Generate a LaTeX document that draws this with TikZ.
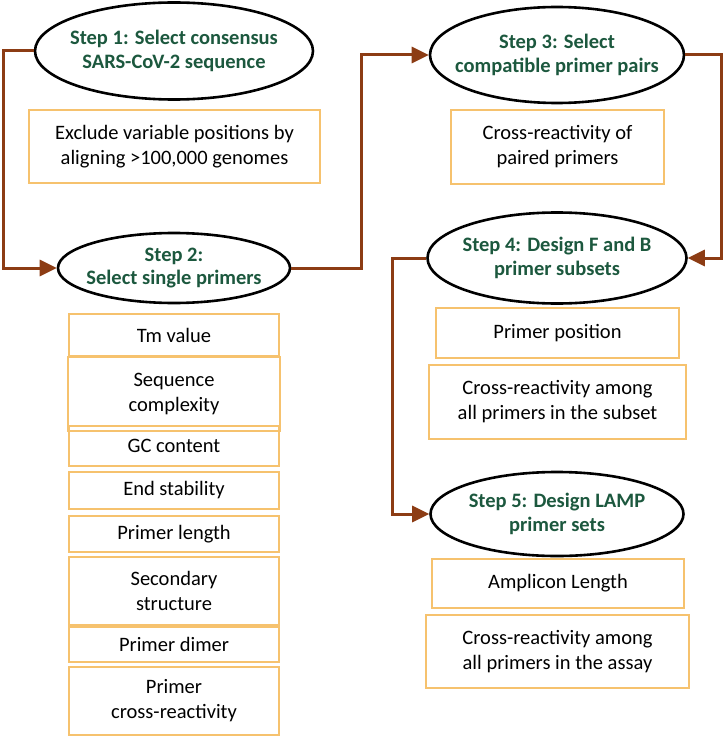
\documentclass[tikz,border=0pt]{standalone}
\usepackage{fontspec}
\setmainfont{Carlito}
\usetikzlibrary{shapes.geometric,arrows.meta}
\definecolor{stepgreen}{RGB}{28,88,62}
\definecolor{connbrown}{RGB}{140,60,20}
\definecolor{boxorange}{RGB}{246,194,110}
\tikzset{
  stepell/.style={ellipse, draw=black, line width=2.6pt, inner sep=0pt},
  steptext/.style={inner sep=0pt, align=center,
    font=\fontsize{20.5}{23.5}\selectfont\bfseries, text=stepgreen},
  critbox/.style={rectangle, draw=boxorange, line width=2.4pt, inner sep=0pt, align=center,
    font=\fontsize{20.5}{25}\selectfont, text=black},
  conn/.style={draw=connbrown, line width=3pt, -{Triangle[length=17pt,width=16pt]}}
}
\begin{document}
\begin{tikzpicture}[x=1pt,y=-1pt]
\useasboundingbox (0,0) rectangle (722,738);
% ellipses
\node[stepell, minimum width=278pt, minimum height=97pt] (e1) at (174,51) {};
\node[steptext] (t1) at (e1) {Step 1: Select consensus\\SARS-CoV-2 sequence};
\node[stepell, minimum width=232pt, minimum height=70pt] (e2) at (174,268) {};
\node[steptext] (t2) at (e2) {Step 2:\\Select single primers};
\node[stepell, minimum width=254pt, minimum height=96pt] (e3) at (557,55) {};
\node[steptext] (t3) at (e3) {Step 3: Select\\compatible primer pairs};
\node[stepell, minimum width=259pt, minimum height=91pt] (e4) at (557,258) {};
\node[steptext] (t4) at (e4) {Step 4: Design F and B\\primer subsets};
\node[stepell, minimum width=253pt, minimum height=84pt] (e5) at (557,514) {};
\node[steptext] (t5) at (e5) {Step 5: Design LAMP\\primer sets};
% boxes
\node[critbox, minimum width=291pt, minimum height=73pt] (b1) at (174.5,146.5) {Exclude variable positions by\\aligning >100,000 genomes};
\node[critbox, minimum width=213pt, minimum height=74pt] (b3) at (557.5,147) {Cross-reactivity of\\paired primers};
\node[critbox, minimum width=243pt, minimum height=50pt] (b4a) at (557.5,333) {Primer position};
\node[critbox, minimum width=257pt, minimum height=74pt] (b4b) at (557.5,402) {Cross-reactivity among\\all primers in the subset};
\node[critbox, minimum width=252pt, minimum height=49pt] (b5a) at (558,583.5) {Amplicon Length};
\node[critbox, minimum width=263pt, minimum height=73pt] (b5b) at (557.5,651.5) {Cross-reactivity among\\all primers in the assay};
% left column
\node[critbox, minimum width=210pt, minimum height=42pt] (c1) at (174,335) {Tm value};
\node[critbox, minimum width=212pt, minimum height=74pt] (c2) at (174,394) {Sequence\\complexity};
\node[critbox, minimum width=210pt, minimum height=40pt] (c3) at (174,446) {GC content};
\node[critbox, minimum width=210pt, minimum height=37pt] (c4) at (174,490.5) {End stability};
\node[critbox, minimum width=210pt, minimum height=36pt] (c5) at (174,534) {Primer length};
\node[critbox, minimum width=210pt, minimum height=68pt] (c6) at (174,591) {Secondary\\structure};
\node[critbox, minimum width=210pt, minimum height=35pt] (c7) at (174,644.5) {Primer dimer};
\node[critbox, minimum width=210pt, minimum height=68pt] (c8) at (174,701) {Primer\\cross-reactivity};
% connectors
\draw[conn] (e1.west) -- ++(-30,0) |- (e2.west);
\draw[conn] (e2.east) -- ++(70,0) |- (e3.west);
\draw[conn] (e3.east) -- ++(36,0) |- (e4.east);
\draw[conn] (e4.west) -- ++(-34,0) |- (e5.west);
\end{tikzpicture}
\end{document}
